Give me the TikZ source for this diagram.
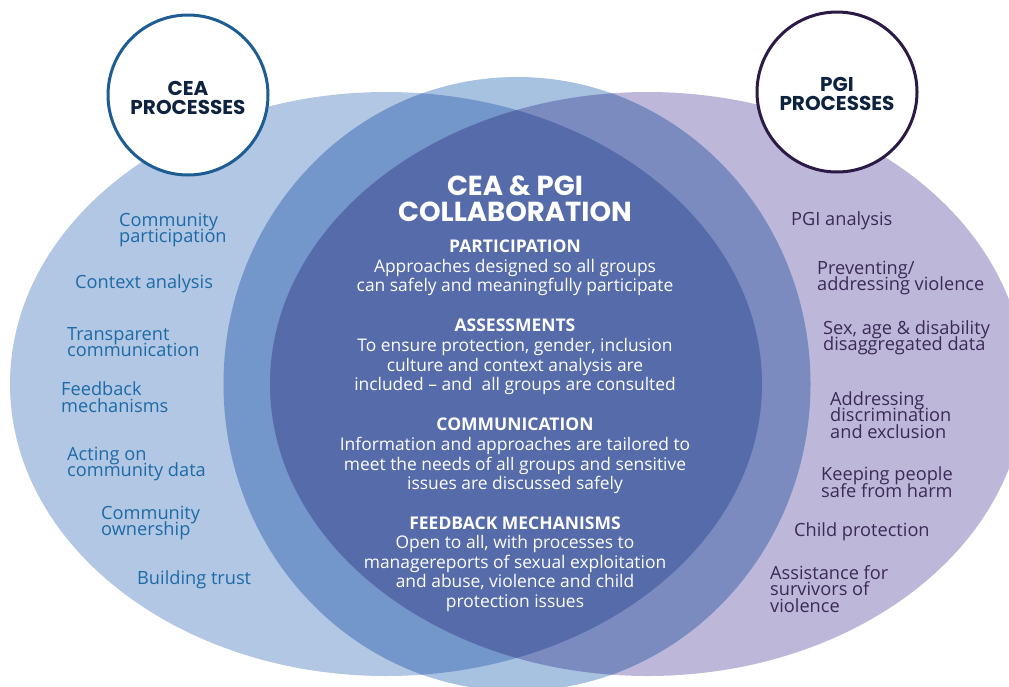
\documentclass[tikz,border=0pt]{standalone}
\usepackage{fontspec}
\setmainfont{Open Sans}
\newfontfamily\titlefont{Poppins}
\definecolor{Lcol}{HTML}{B1C7E4}
\definecolor{Rcol}{HTML}{BDB8DA}
\definecolor{Mcol}{HTML}{A7C1E1}
\definecolor{LMcol}{HTML}{7397CA}
\definecolor{RMcol}{HTML}{7B8BBF}
\definecolor{LRMcol}{HTML}{566BAA}
\definecolor{ltext}{HTML}{1D6AA6}
\definecolor{rtext}{HTML}{3B2A57}
\definecolor{navy}{HTML}{0E2340}
\definecolor{ceaborder}{HTML}{1E5D94}
\definecolor{pgiborder}{HTML}{2B1A45}
\newcommand{\tightlines}{\lineskiplimit -100pt\relax}
\tikzset{
  lefttext/.style={anchor=west, inner sep=0pt, align=left, text=ltext,
    font=\fontsize{18.2}{16.5}\selectfont\tightlines},
  righttext/.style={anchor=west, inner sep=0pt, align=left, text=rtext,
    font=\fontsize{18.2}{16.5}\selectfont\tightlines},
  centertext/.style={anchor=center, inner sep=0pt, align=center, text=white,
    font=\fontsize{17.4}{19.6}\selectfont\tightlines},
  procircle/.style={circle, fill=white, line width=3pt, minimum size=160pt,
    inner sep=0pt},
  circtext/.style={inner sep=0pt, align=center, text=navy,
    font=\titlefont\bfseries\fontsize{20}{19}\selectfont\tightlines},
  bigtitle/.style={anchor=center, inner sep=0pt, align=center, text=white,
    font=\titlefont\bfseries\fontsize{27.5}{26}\selectfont\tightlines}
}
\newcommand{\hd}[1]{{\bfseries\fontsize{17.5}{19.6}\selectfont #1}}
\begin{document}
\begin{tikzpicture}[x=1pt,y=-1pt]
\useasboundingbox (0,0) rectangle (1009,686);
\begin{scope}
\clip (0,0) rectangle (1009,686);
\fill[Lcol] (386,384) ellipse [x radius=376, y radius=292];
\fill[Rcol] (647.5,384) ellipse [x radius=377.5, y radius=292];
\fill[Mcol] (517,384) ellipse [x radius=293.5, y radius=307];
\begin{scope}
\clip (517,384) ellipse [x radius=293.5, y radius=307];
\fill[LMcol] (386,384) ellipse [x radius=376, y radius=292];
\fill[RMcol] (647.5,384) ellipse [x radius=377.5, y radius=292];
\clip (386,384) ellipse [x radius=376, y radius=292];
\fill[LRMcol] (647.5,384) ellipse [x radius=377.5, y radius=292];
\end{scope}
\end{scope}

\node[procircle, draw=ceaborder] (cea) at (188,95) {};
\node[procircle, draw=pgiborder] (pgi) at (837,92) {};
\node[circtext] (ceat) at (188,98) {CEA\\PROCESSES};
\node[circtext] (pgit) at (837,94) {PGI\\PROCESSES};

% left items
\node[lefttext] (l1) at (119,230) {Community\\participation};
\node[lefttext] (l2) at (75,284) {Context analysis};
\node[lefttext] (l3) at (67,342) {Transparent\\communication};
\node[lefttext] (l4) at (61,397) {Feedback\\mechanisms};
\node[lefttext] (l5) at (67,464) {Acting on\\community data};
\node[lefttext] (l6) at (101,523) {Community\\ownership};
\node[lefttext] (l7) at (137,580) {Building trust};

% right items
\node[righttext] (r1) at (791,221) {PGI analysis};
\node[righttext] (r2) at (817,278) {Preventing/\\addressing violence};
\node[righttext] (r3) at (823,338) {Sex, age \& disability\\disaggregated data};
\node[righttext] (r4) at (830,415) {Addressing\\discrimination\\and exclusion};
\node[righttext] (r5) at (821,482) {Keeping people\\safe from harm};
\node[righttext] (r6) at (794,532) {Child protection};
\node[righttext] (r7) at (770,589) {Assistance for\\survivors of\\violence};

% center
\node[bigtitle] (title) at (515,199) {CEA \& PGI\\COLLABORATION};
\node[centertext] (c1) at (515,268) {\hd{PARTICIPATION}\\Approaches designed so all groups\\can safely and meaningfully participate};
\node[centertext] (c2) at (515,357) {\hd{ASSESSMENTS}\\To ensure protection, gender, inclusion\\culture and context analysis are\\included – and\ \ all groups are consulted};
\node[centertext] (c3) at (515,456) {\hd{COMMUNICATION}\\Information and approaches are tailored to\\meet the needs of all groups and sensitive\\issues are discussed safely};
\node[centertext] (c4) at (515,564) {\hd{FEEDBACK MECHANISMS}\\Open to all, with processes to\\managereports of sexual exploitation\\and abuse, violence and child\\protection issues};
\end{tikzpicture}
\end{document}
